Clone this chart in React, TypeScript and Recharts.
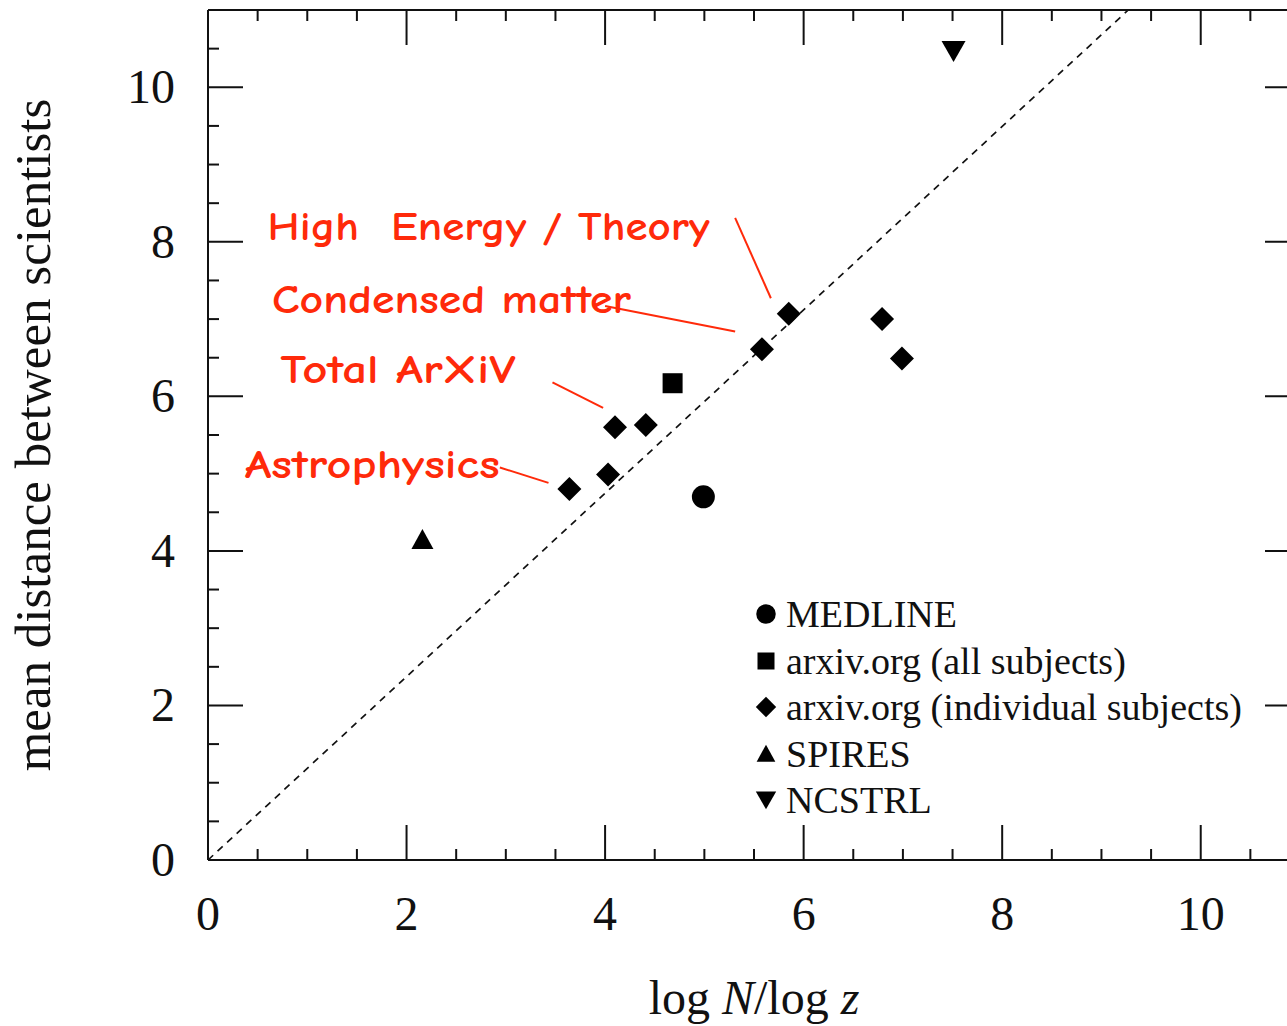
import { ScatterChart, Scatter, XAxis, YAxis, ReferenceLine, ReferenceDot, Legend } from "recharts";

// measured points (log N / log z, mean distance)
const medline = [{ x: 4.99, y: 4.7 }];
const arxivAll = [{ x: 4.68, y: 6.17 }];
const subjectX = [3.64, 4.03, 4.1, 4.41, 5.58, 5.85, 6.79, 6.99];
const subjectY = [4.8, 4.99, 5.6, 5.63, 6.61, 7.07, 7.0, 6.49];
const arxivSubjects = subjectX.map((x, i) => ({ x, y: subjectY[i] }));
const spires = [{ x: 2.16, y: 4.14 }];
const ncstrl = [{ x: 7.51, y: 10.47 }];

// dashed guide through the origin
const guideLine = [
  { x: 0, y: 0 },
  { x: 9.27, y: 11 },
];

const xTicks = [0, 0.5, 1, 1.5, 2, 2.5, 3, 3.5, 4, 4.5, 5, 5.5, 6, 6.5, 7, 7.5, 8, 8.5, 9, 9.5, 10, 10.5];
const yTicks = [0, 0.5, 1, 1.5, 2, 2.5, 3, 3.5, 4, 4.5, 5, 5.5, 6, 6.5, 7, 7.5, 8, 8.5, 9, 9.5, 10, 10.5];
const labelledTicks = [0, 2, 4, 6, 8, 10];

const legendOrder = [
  "MEDLINE",
  "arxiv.org (all subjects)",
  "arxiv.org (individual subjects)",
  "SPIRES",
  "NCSTRL",
];

// hand-written notes: text, anchor of the text, leader line
const noteText = ["High  Energy / Theory", "Condensed matter", "Total ArXiV", "Astrophysics"];
const noteAnchor = [
  { x: 0.6, y: 8.02 },
  { x: 0.645, y: 7.08 },
  { x: 0.73, y: 6.17 },
  { x: 0.37, y: 4.95 },
];
const noteLeader = [
  [{ x: 5.31, y: 8.31 }, { x: 5.67, y: 7.27 }],
  [{ x: 4.0, y: 7.17 }, { x: 5.31, y: 6.84 }],
  [{ x: 3.47, y: 6.18 }, { x: 3.98, y: 5.85 }],
  [{ x: 2.94, y: 5.08 }, { x: 3.43, y: 4.88 }],
];
const noteWidths = [442, 359, 235, 255];

const SERIF = "'Liberation Serif', 'Times New Roman', serif";
const HAND = "'Comic Sans MS', 'Comic Neue', Lato, sans-serif";
const RED = "#ff2a0a";
const INK = "#111";
const MAJOR = 35;
const MINOR = 11;

type Kind = "circle" | "square" | "diamond" | "up" | "down";

const seriesKind: Record<string, Kind> = {
  MEDLINE: "circle",
  "arxiv.org (all subjects)": "square",
  "arxiv.org (individual subjects)": "diamond",
  SPIRES: "up",
  NCSTRL: "down",
};

function marker(kind: Kind, cx: number, cy: number, s = 1) {
  switch (kind) {
    case "circle":
      return <circle cx={cx} cy={cy} r={11.5 * s} fill="#000" />;
    case "square":
      return <rect x={cx - 10 * s} y={cy - 10 * s} width={20 * s} height={20 * s} fill="#000" />;
    case "diamond":
      return (
        <path
          d={`M${cx} ${cy - 12 * s}L${cx + 12 * s} ${cy}L${cx} ${cy + 12 * s}L${cx - 12 * s} ${cy}Z`}
          fill="#000"
        />
      );
    case "up":
      return (
        <path d={`M${cx} ${cy - 11 * s}L${cx + 11 * s} ${cy + 9 * s}L${cx - 11 * s} ${cy + 9 * s}Z`} fill="#000" />
      );
    default:
      return (
        <path d={`M${cx} ${cy + 11 * s}L${cx + 12 * s} ${cy - 10 * s}L${cx - 12 * s} ${cy - 10 * s}Z`} fill="#000" />
      );
  }
}

const shapeOf = (kind: Kind) => (p: any) => marker(kind, p.cx, p.cy);

const tickLen = (v: number) => (labelledTicks.includes(v) ? MAJOR : MINOR);

function BottomTick({ x, y, payload }: any) {
  const v = payload.value;
  return (
    <g>
      <line x1={x} y1={y} x2={x} y2={y - tickLen(v)} stroke={INK} strokeWidth={2} />
      {labelledTicks.includes(v) && (
        <text x={x} y={y + 70} textAnchor="middle" fontFamily={SERIF} fontSize={48} fill={INK}>
          {v}
        </text>
      )}
    </g>
  );
}

function TopTick({ x, y, payload }: any) {
  return <line x1={x} y1={y} x2={x} y2={y + tickLen(payload.value)} stroke={INK} strokeWidth={2} />;
}

function LeftTick({ x, y, payload }: any) {
  const v = payload.value;
  return (
    <g>
      <line x1={x} y1={y} x2={x + tickLen(v)} y2={y} stroke={INK} strokeWidth={2} />
      {labelledTicks.includes(v) && (
        <text x={x - 33} y={y + 16} textAnchor="end" fontFamily={SERIF} fontSize={48} fill={INK}>
          {v}
        </text>
      )}
    </g>
  );
}

function RightTick({ x, y, payload }: any) {
  return <line x1={x} y1={y} x2={x - tickLen(payload.value)} y2={y} stroke={INK} strokeWidth={2} />;
}

function XLabel({ viewBox }: any) {
  const { x, y, width } = viewBox;
  return (
    <text x={x + width / 2} y={y + 154} textAnchor="middle" fontFamily={SERIF} fontSize={48} fill={INK}>
      log <tspan fontStyle="italic">N</tspan>/log <tspan fontStyle="italic">z</tspan>
    </text>
  );
}

function YLabel({ viewBox }: any) {
  const { y, height } = viewBox;
  const cx = 50;
  const cy = y + height / 2;
  return (
    <text
      x={cx}
      y={cy}
      transform={`rotate(-90, ${cx}, ${cy})`}
      textAnchor="middle"
      fontFamily={SERIF}
      fontSize={51}
      fill={INK}
    >
      mean distance between scientists
    </text>
  );
}

const noteLabel = (i: number) => ({ viewBox }: any) => (
  <text
    x={viewBox.x}
    y={viewBox.y}
    fontFamily={HAND}
    fontSize={40}
    fontWeight={600}
    fill={RED}
    textLength={noteWidths[i]}
    lengthAdjust="spacingAndGlyphs"
    style={{ whiteSpace: "pre" }}
  >
    {noteText[i]}
  </text>
);

function LegendBox({ payload }: any) {
  const items = [...(payload || [])]
    .filter((item: any) => seriesKind[item.value])
    .sort((a: any, b: any) => legendOrder.indexOf(a.value) - legendOrder.indexOf(b.value));
  return (
    <div style={{ fontFamily: SERIF, fontSize: 38, color: INK, whiteSpace: "nowrap" }}>
      {items.map((item: any) => (
        <div key={item.value} style={{ display: "flex", alignItems: "center", height: 46.5 }}>
          <svg width={22} height={22} style={{ marginRight: 9 }}>
            {marker(seriesKind[item.value], 11, 11, 0.85)}
          </svg>
          <span>{item.value}</span>
        </div>
      ))}
    </div>
  );
}

export default function App() {
  return (
    <div
      style={{
        position: "absolute",
        left: 0,
        top: 0,
        width: 1287,
        height: 1026,
        overflow: "hidden",
        background: "#fff",
      }}
    >
      <ScatterChart width={1301} height={1026} margin={{ top: 9, right: 0, bottom: 0, left: 0 }}>
        <XAxis
          type="number"
          dataKey="x"
          domain={[0, 11]}
          ticks={xTicks}
          interval={0}
          tickSize={0}
          tickMargin={0}
          tickLine={false}
          tick={BottomTick}
          axisLine={{ stroke: INK, strokeWidth: 2 }}
          height={166}
          label={XLabel}
          allowDataOverflow
        />
        <XAxis
          xAxisId="top"
          orientation="top"
          type="number"
          dataKey="x"
          domain={[0, 11]}
          ticks={xTicks}
          interval={0}
          tickSize={0}
          tickMargin={0}
          tickLine={false}
          tick={TopTick}
          axisLine={{ stroke: INK, strokeWidth: 2 }}
          height={1}
          allowDataOverflow
        />
        <YAxis
          type="number"
          dataKey="y"
          domain={[0, 11]}
          ticks={yTicks}
          interval={0}
          tickSize={0}
          tickMargin={0}
          tickLine={false}
          tick={LeftTick}
          axisLine={{ stroke: INK, strokeWidth: 2 }}
          width={208}
          label={YLabel}
          allowDataOverflow
        />
        <YAxis
          yAxisId="right"
          orientation="right"
          type="number"
          dataKey="y"
          domain={[0, 11]}
          ticks={yTicks}
          interval={0}
          tickSize={0}
          tickMargin={0}
          tickLine={false}
          tick={RightTick}
          axisLine={false}
          width={1}
          allowDataOverflow
        />

        <ReferenceLine
          segment={guideLine}
          stroke={INK}
          strokeWidth={1.7}
          strokeDasharray="7 6"
          ifOverflow="visible"
        />
        {noteLeader.map((seg, i) => (
          <ReferenceLine key={`lead-${i}`} segment={seg} stroke={RED} strokeWidth={2} ifOverflow="visible" />
        ))}
        {noteAnchor.map((p, i) => (
          <ReferenceDot
            key={`note-${i}`}
            x={p.x}
            y={p.y}
            r={0}
            fill="none"
            stroke="none"
            ifOverflow="visible"
            label={noteLabel(i)}
          />
        ))}

        <Scatter name="MEDLINE" data={medline} shape={shapeOf("circle")} isAnimationActive={false} />
        <Scatter name="arxiv.org (all subjects)" data={arxivAll} shape={shapeOf("square")} isAnimationActive={false} />
        <Scatter
          name="arxiv.org (individual subjects)"
          data={arxivSubjects}
          shape={shapeOf("diamond")}
          isAnimationActive={false}
        />
        <Scatter name="SPIRES" data={spires} shape={shapeOf("up")} isAnimationActive={false} />
        <Scatter name="NCSTRL" data={ncstrl} shape={shapeOf("down")} isAnimationActive={false} />

        <Legend
          layout="vertical"
          align="center"
          verticalAlign="middle"
          content={LegendBox}
          wrapperStyle={{ left: 755, top: 591, width: "auto" }}
        />
      </ScatterChart>
    </div>
  );
}
